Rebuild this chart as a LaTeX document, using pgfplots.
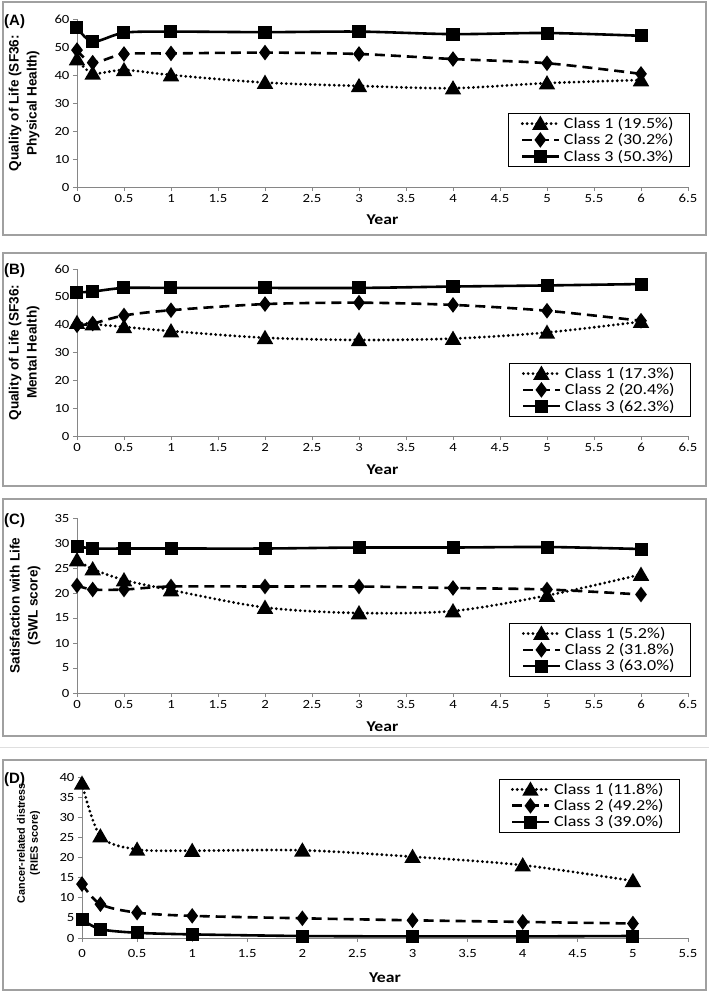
\documentclass[border=0pt]{standalone}
\usepackage{pgfplots}
\pgfplotsset{compat=1.18}
\usepackage{fontspec}
\setmainfont{Carlito}[FakeStretch=1.18]
\newfontfamily\labfont{Liberation Sans}
\definecolor{axgray}{RGB}{134,134,134}
\definecolor{framegray}{RGB}{160,160,160}
\pgfplotsset{
  panel/.style={
    scale only axis,
    axis lines=left,
    axis line style={-, draw=axgray, line width=0.8pt},
    tick align=outside,
    major tick length=4pt,
    every tick/.style={draw=axgray, line width=0.8pt},
    tick label style={font=\fontsize{12.5}{14}\selectfont, text=black},
    /pgf/number format/assume math mode=true,
    xmin=0, ymin=0,
    clip=false,
    xtick distance=0.5,
    xlabel={Year},
    xlabel style={font=\bfseries\fontsize{15}{16}\selectfont, at={(axis description cs:0.5,0)}, anchor=center},
    ylabel style={font=\labfont\bfseries\fontsize{13.6}{18}\selectfont, align=center, anchor=center},
    legend cell align=left,
    legend style={draw=black, line width=0.8pt, fill=white,
      font=\fontsize{15.3}{18}\selectfont,
      inner xsep=12pt, inner ysep=2pt, row sep=0pt,
      nodes={inner ysep=1.8pt, inner xsep=4pt},
      /tikz/every even column/.append style={column sep=10pt}},
    legend image code/.code={
      \draw[mark repeat=2, mark phase=2, #1] plot coordinates {(0pt,0pt) (18pt,0pt) (36pt,0pt)};
    },
  },
  c1/.style={black, line width=3.1pt, line cap=round, dash pattern=on 0pt off 4.8pt, smooth, tension=0.5,
    mark=triangle*, mark size=6.4pt, mark options={solid, yshift=-1.5pt}},
  c2/.style={black, line width=2.6pt, dash pattern=on 10pt off 6pt, smooth, tension=0.5,
    mark=diamond*, mark size=5.7pt, mark options={solid}},
  c3/.style={black, line width=2.6pt, solid, smooth, tension=0.5,
    mark=square*, mark size=5.2pt, mark options={solid}},
}
\begin{document}
\begin{tikzpicture}
\useasboundingbox (0pt,0pt) rectangle (709pt,-998pt);
% panel frames
\draw[framegray, line width=1.5pt] (3pt,-2pt) rectangle (706pt,-235pt);
\draw[framegray, line width=1.5pt] (3pt,-253pt) rectangle (706pt,-486pt);
\draw[framegray, line width=1.5pt] (3pt,-499pt) rectangle (706pt,-736pt);
\draw[gray!25, line width=1pt] (0pt,-747pt) -- (709pt,-747pt);
\draw[framegray, line width=1.5pt] (3pt,-760pt) rectangle (706pt,-990pt);
% panel letters
\node[anchor=west, font=\labfont\bfseries\fontsize{15}{18}\selectfont, inner sep=0pt] at (4pt,-21.5pt) {(A)};
\node[anchor=west, font=\labfont\bfseries\fontsize{15}{18}\selectfont, inner sep=0pt] at (4pt,-271pt) {(B)};
\node[anchor=west, font=\labfont\bfseries\fontsize{15}{18}\selectfont, inner sep=0pt] at (4pt,-521pt) {(C)};
\node[anchor=west, font=\labfont\bfseries\fontsize{15}{18}\selectfont, inner sep=0pt] at (4pt,-780pt) {(D)};

% ---------- (A)
\begin{axis}[panel, at={(77pt,-187pt)}, anchor=south west, width=611pt, height=168pt,
  xmax=6.5, ymax=60, ytick distance=10,
  xlabel style={yshift=-33pt},
  ylabel={Quality of Life (SF36:\\Physical Health)},
  ylabel style={at={(axis description cs:-0.0867,0.5)}},
  legend style={at={(1.0033,0.44)}, anchor=north east}]
\addplot[c1] coordinates {(0,45.7)(0.167,40.6)(0.5,41.8)(1,40.0)(2,37.3)(3,36.1)(4,35.3)(5,37.1)(6,38.2)};
\addlegendentry{Class 1 (19.5\%)}
\addplot[c2] coordinates {(0,48.9)(0.167,44.4)(0.5,47.5)(1,47.7)(2,48.0)(3,47.5)(4,45.7)(5,44.2)(6,40.4)};
\addlegendentry{Class 2 (30.2\%)}
\addplot[c3] coordinates {(0,57.0)(0.167,51.9)(0.5,55.1)(1,55.5)(2,55.3)(3,55.5)(4,54.6)(5,55.0)(6,54.0)};
\addlegendentry{Class 3 (50.3\%)}
\end{axis}

% ---------- (B)
\begin{axis}[panel, at={(77pt,-436pt)}, anchor=south west, width=611pt, height=167pt,
  xmax=6.5, ymax=60, ytick distance=10,
  xlabel style={yshift=-34pt},
  ylabel={Quality of Life (SF36:\\Mental Health)},
  ylabel style={at={(axis description cs:-0.0867,0.5)}},
  legend style={at={(1.005,0.437)}, anchor=north east}]
\addplot[c1] coordinates {(0,40.7)(0.167,40.2)(0.5,39.2)(1,37.7)(2,35.3)(3,34.5)(4,35.0)(5,37.2)(6,41.1)};
\addlegendentry{Class 1 (17.3\%)}
\addplot[c2] coordinates {(0,39.8)(0.167,40.4)(0.5,43.3)(1,45.2)(2,47.4)(3,47.9)(4,47.1)(5,45.0)(6,41.4)};
\addlegendentry{Class 2 (20.4\%)}
\addplot[c3] coordinates {(0,51.6)(0.167,51.9)(0.5,53.2)(1,53.2)(2,53.2)(3,53.2)(4,53.7)(5,54.1)(6,54.6)};
\addlegendentry{Class 3 (62.3\%)}
\end{axis}

% ---------- (C)
\begin{axis}[panel, at={(77pt,-693pt)}, anchor=south west, width=611pt, height=175pt,
  xmax=6.5, ymax=35, ytick distance=5,
  xlabel style={yshift=-34pt},
  ylabel={Satisfaction with Life\\(SWL score)},
  ylabel style={at={(axis description cs:-0.0851,0.5)}},
  legend style={at={(1.005,0.40)}, anchor=north east}]
\addplot[c1] coordinates {(0,26.6)(0.167,24.8)(0.5,22.6)(1,20.6)(2,17.1)(3,16.0)(4,16.4)(5,19.5)(6,23.7)};
\addlegendentry{Class 1 (5.2\%)}
\addplot[c2] coordinates {(0,21.5)(0.167,20.7)(0.5,20.7)(1,21.3)(2,21.3)(3,21.3)(4,21.0)(5,20.7)(6,19.7)};
\addlegendentry{Class 2 (31.8\%)}
\addplot[c3] coordinates {(0,29.4)(0.167,28.9)(0.5,28.9)(1,28.9)(2,28.9)(3,29.1)(4,29.1)(5,29.2)(6,28.8)};
\addlegendentry{Class 3 (63.0\%)}
\end{axis}

% ---------- (D)
\begin{axis}[panel, at={(82pt,-938pt)}, anchor=south west, width=606pt, height=161pt,
  xmax=5.5, ymax=40, ytick distance=5,
  xticklabel style={yshift=-4pt},
  xlabel style={yshift=-40pt},
  ylabel={Cancer-related distress\\(RIES score)},
  ylabel style={at={(axis description cs:-0.0883,0.59)}, font=\labfont\bfseries\fontsize{10.8}{13}\selectfont},
  legend style={at={(0.987,0.988)}, anchor=north east}]
\addplot[c1] coordinates {(0,38.4)(0.167,25.3)(0.5,22.0)(1,21.7)(2,21.8)(3,20.2)(4,18.1)(5,14.2)};
\addlegendentry{Class 1 (11.8\%)}
\addplot[c2] coordinates {(0,13.4)(0.167,8.4)(0.5,6.3)(1,5.5)(2,4.9)(3,4.4)(4,4.0)(5,3.6)};
\addlegendentry{Class 2 (49.2\%)}
\addplot[c3] coordinates {(0,4.6)(0.167,2.2)(0.5,1.3)(1,0.9)(2,0.5)(3,0.4)(4,0.4)(5,0.5)};
\addlegendentry{Class 3 (39.0\%)}
\end{axis}
\end{tikzpicture}
\end{document}
